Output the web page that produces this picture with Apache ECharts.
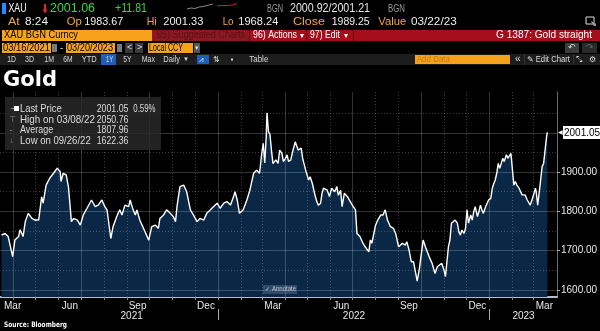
<!DOCTYPE html>
<html>
<head>
<meta charset="utf-8">
<script src="https://cdn.jsdelivr.net/npm/echarts@6/dist/echarts.min.js"></script>
<style>
html, body { margin: 0; padding: 0; background: #000; }
#chart { width: 600px; height: 331px; }
</style>
</head>
<body>
<div id="chart"></div>
<script>
// XAU spot, daily closes (sampled)
const dates = [
  '2021-03-16','2021-03-21','2021-03-25','2021-03-27','2021-03-31','2021-04-03','2021-04-08','2021-04-10','2021-04-12','2021-04-14',
  '2021-04-17','2021-04-21','2021-04-26','2021-04-30','2021-05-05','2021-05-09','2021-05-11','2021-05-15','2021-05-20','2021-05-25',
  '2021-05-30','2021-06-03','2021-06-04','2021-06-07','2021-06-11','2021-06-14','2021-06-18','2021-06-21','2021-06-26','2021-06-30',
  '2021-07-04','2021-07-09','2021-07-15','2021-07-20','2021-07-24','2021-07-29','2021-08-02','2021-08-05','2021-08-10','2021-08-13',
  '2021-08-18','2021-08-22','2021-08-25','2021-08-29','2021-09-03','2021-09-05','2021-09-09','2021-09-12','2021-09-14','2021-09-18',
  '2021-09-21','2021-09-25','2021-09-30','2021-10-04','2021-10-09','2021-10-13','2021-10-15','2021-10-20','2021-10-24','2021-10-29',
  '2021-11-02','2021-11-05','2021-11-07','2021-11-11','2021-11-16','2021-11-20','2021-11-25','2021-11-29','2021-12-04','2021-12-08',
  '2021-12-13','2021-12-17','2021-12-22','2021-12-26','2021-12-31','2022-01-04','2022-01-09','2022-01-13','2022-01-18','2022-01-22',
  '2022-01-24','2022-01-27','2022-01-30','2022-02-04','2022-02-09','2022-02-13','2022-02-18','2022-02-22','2022-02-26','2022-03-01',
  '2022-03-03','2022-03-05','2022-03-07','2022-03-08','2022-03-10','2022-03-12','2022-03-14','2022-03-16','2022-03-20','2022-03-23',
  '2022-03-25','2022-03-28','2022-03-30','2022-04-02','2022-04-04','2022-04-06','2022-04-09','2022-04-12','2022-04-15','2022-04-17',
  '2022-04-19','2022-04-23','2022-04-25','2022-04-29','2022-05-01','2022-05-03','2022-05-05','2022-05-08','2022-05-11','2022-05-14',
  '2022-05-16','2022-05-19','2022-05-21','2022-05-23','2022-05-28','2022-05-31','2022-06-03','2022-06-07','2022-06-10','2022-06-12',
  '2022-06-15','2022-06-17','2022-06-20','2022-06-24','2022-06-28','2022-07-02','2022-07-05','2022-07-07','2022-07-11','2022-07-15',
  '2022-07-18','2022-07-23','2022-07-25','2022-07-27','2022-08-01','2022-08-04','2022-08-08','2022-08-11','2022-08-14','2022-08-17',
  '2022-08-21','2022-08-25','2022-08-28','2022-09-01','2022-09-06','2022-09-10','2022-09-12','2022-09-15','2022-09-18','2022-09-21',
  '2022-09-23','2022-09-26','2022-09-29','2022-10-04','2022-10-07','2022-10-12','2022-10-16','2022-10-20','2022-10-23','2022-10-25',
  '2022-10-29','2022-11-01','2022-11-03','2022-11-07','2022-11-09','2022-11-11','2022-11-16','2022-11-19','2022-11-21','2022-11-23',
  '2022-11-25','2022-11-28','2022-11-30','2022-12-02','2022-12-04','2022-12-07','2022-12-09','2022-12-11','2022-12-13','2022-12-16',
  '2022-12-18','2022-12-20','2022-12-22','2022-12-24','2022-12-27','2022-12-29','2022-12-31','2023-01-03','2023-01-05','2023-01-07',
  '2023-01-09','2023-01-11','2023-01-13','2023-01-15','2023-01-17','2023-01-19','2023-01-21','2023-01-24','2023-01-26','2023-01-28',
  '2023-01-30','2023-02-01','2023-02-03','2023-02-05','2023-02-07','2023-02-10','2023-02-12','2023-02-14','2023-02-16','2023-02-18',
  '2023-02-21','2023-02-23','2023-02-25','2023-02-28','2023-03-02','2023-03-04','2023-03-05','2023-03-07','2023-03-09','2023-03-10',
  '2023-03-13','2023-03-14','2023-03-15','2023-03-17','2023-03-19','2023-03-20'
];
const prices = [
  1740,1744,1736,1732,1685,1727,1736,1753,1745,1736,
  1774,1795,1782,1778,1778,1837,1821,1867,1885,1897,
  1910,1901,1876,1897,1893,1863,1774,1782,1778,1765,
  1791,1808,1829,1812,1816,1829,1812,1803,1731,1761,
  1787,1804,1791,1816,1812,1829,1804,1791,1804,1778,
  1765,1748,1727,1761,1765,1757,1782,1791,1804,1795,
  1787,1774,1812,1863,1867,1850,1804,1791,1774,1782,
  1778,1795,1804,1812,1821,1808,1821,1825,1816,1837,
  1850,1829,1795,1804,1829,1854,1897,1905,1897,1948,
  1973,1923,1990,2050.76,2003,1996,1956,1922,1931,1922,
  1956,1948,1927,1935,1944,1927,1931,1956,1977,1977,
  1956,1961,1935,1905,1901,1880,1888,1871,1846,1825,
  1816,1820,1846,1859,1854,1838,1859,1850,1863,1841,
  1854,1812,1846,1838,1825,1812,1804,1744,1736,1719,
  1710,1697,1727,1719,1765,1778,1791,1791,1804,1778,
  1761,1757,1744,1710,1719,1714,1723,1702,1672,1672,
  1668,1622.36,1655,1727,1710,1685,1668,1642,1659,1655,
  1668,1651,1634,1710,1727,1770,1778,1770,1748,1740,
  1752,1744,1757,1804,1770,1791,1778,1799,1812,1787,
  1799,1816,1804,1795,1812,1812,1829,1833,1859,1871,
  1880,1897,1922,1910,1922,1935,1927,1944,1935,1931,
  1948,1952,1867,1876,1867,1859,1854,1842,1838,1842,
  1829,1825,1816,1833,1846,1859,1850,1816,1812,1863,
  1914,1910,1922,1956,1990,2001.05
];

// Axis text
const monthLabelDates = ['2021-03-31','2021-06-16','2021-09-15','2021-12-16','2022-03-16','2022-06-16','2022-09-15','2022-12-16','2023-03-16'];
const yearLabelDates = ['2021-09-07','2022-07-03','2023-02-16'];
const yearBreaks = ['2022-01-01','2023-01-01'];
const priceTicks = [1600, 1700, 1800, 1900];
const lastPrice = 2001.05;

// Legend panel rows
const statNames = ['Last Price', 'High on 03/08/22', 'Average', 'Low on 09/26/22'];
const statValues = ['2001.05', '2050.76', '1807.96', '1622.36'];
const lastChangePct = '0.59%';

const MONTHS = ['Jan','Feb','Mar','Apr','May','Jun','Jul','Aug','Sep','Oct','Nov','Dec'];
const ts = s => new Date(s + 'T00:00:00').getTime();
const SANS = '"Liberation Sans", Arial, sans-serif';
const BOLD_FACE = '"DejaVu Sans", sans-serif';
const ORANGE = '#f6a21c';
const AMBER = '#f2a93b';
const X_MIN = ts('2021-03-14');
const X_MAX = ts('2023-04-02');

const seriesData = dates.map((d, i) => [ts(d), prices[i]]);

// month boundaries (vertical grid), quarter starts drawn solid
const monthStarts = [];
for (let y = 2021, m = 3; y < 2023 || m <= 2; ) {
  monthStarts.push(new Date(y, m, 1).getTime());
  m++; if (m > 11) { m = 0; y++; }
}
const SOLID = { color: 'rgba(255,255,255,0.2)', width: 1, type: 'solid' };
const DOTTED = { color: 'rgba(255,255,255,0.22)', width: 1, type: [1, 2] };
const gridMarks = [];
for (let v = 1600; v <= 2050; v += 50) {
  gridMarks.push({ yAxis: v, lineStyle: v % 100 === 0 ? SOLID : DOTTED });
}
monthStarts.forEach(t => {
  gridMarks.push({ xAxis: t, lineStyle: new Date(t).getMonth() % 3 === 0 ? SOLID : DOTTED });
});

// ---- header / panel graphics ----
// terminal text is condensed: squeeze each run horizontally to its box width
const measureCtx = document.createElement('canvas').getContext('2d');
function squeeze(text, size, weight, family, w) {
  if (!w) return 1;
  measureCtx.font = `${weight || 'normal'} ${size}px ${family}`;
  return w / measureCtx.measureText(text).width;
}
const T = (x, y, text, fill, size, w, extra) => {
  extra = extra || {};
  const family = extra.fontFamily || SANS;
  return {
    type: 'text', x, y, silent: true, z: 100,
    scaleX: squeeze(text, size, extra.fontWeight, family, w),
    style: Object.assign({ text, fill, fontSize: size, fontFamily: family, verticalAlign: 'middle' }, extra)
  };
};
const R = (x, y, w, h, fill, z) => ({ type: 'rect', silent: true, z: z || 95, shape: { x, y, width: w, height: h }, style: { fill } });

const g = [];
// row 1 : ticker quote
g.push(R(2, 3, 4, 11, '#1f8bff'));
g.push(T(8.5, 9, 'XAU', '#ffffff', 12.5, 18));
g.push(R(44, 4, 2, 6, '#e8202a', 100));
g.push({ type: 'polygon', silent: true, z: 100, shape: { points: [[42.5, 9.5], [47.5, 9.5], [45, 13.5]] }, style: { fill: '#e8202a' } });
g.push(T(50, 9, '2001.06', '#35d83a', 12.5, 45));
g.push(T(115, 9, '+11.81', '#35d83a', 12.5, 32));
g.push({ type: 'polyline', silent: true, z: 100, shape: { points: [[187,9],[191,8],[195,8.5],[199,7],[203,6.5],[207,5.5],[213,4]] }, style: { stroke: '#8a8a8a', lineWidth: 1, fill: null } });
g.push({ type: 'polyline', silent: true, z: 100, shape: { points: [[217,6],[222,5.5],[228,5.5],[233,5],[237,3.5]] }, style: { stroke: '#d0202a', lineWidth: 1, fill: null } });
g.push(T(267, 9, 'BGN', '#9a9a9a', 11.5, 16));
g.push(T(290, 9, '2000.92/2001.21', '#e6e6e6', 12.5, 80));
g.push(T(388, 9, 'BGN', '#9a9a9a', 11.5, 17));
// row 2 : session stats
[[8,'At',AMBER,11.7],[25,'8:24','#eee',23],[66.7,'Op',AMBER,15],[84.3,'1983.67','#eee',39],[146.7,'Hi',AMBER,10],[163.3,'2001.33','#eee',40],
 [222.7,'Lo',AMBER,10.7],[238.3,'1968.24','#eee',40],[293,'Close',AMBER,32],[331.7,'1989.25','#eee',38],[378.3,'Value',AMBER,28],[411,'03/22/23','#eee',45.7]]
  .forEach(([x, t, c, w]) => g.push(T(x, 21.5, t, c, 11, w)));
g.push({ type: 'rect', silent: true, z: 100, shape: { x: 586, y: 17, width: 8, height: 7 }, style: { fill: null, stroke: '#ddd', lineWidth: 1 } });
g.push(T(590, 24, '↘', '#ddd', 8));
// row 3 : security / function bar
g.push(R(2, 30, 150, 11, ORANGE));
g.push(T(4, 35.5, 'XAU BGN Curncy', '#000', 10.5, 74));
g.push(R(152, 30, 448, 11, '#a50f1b'));
g.push(R(153, 30, 95, 11, '#8a1921'));
g.push(T(157, 35.5, '95) Suggested Charts', '#5e1118', 10.5, 88));
g.push(R(249, 30, 1, 11, '#5a070e'));
g.push(T(253, 35.5, '96) Actions', '#ffffff', 10.5, 44));
g.push(T(300, 35.5, '▾', '#ffffff', 8));
g.push(R(306, 30, 1, 11, '#5a070e'));
g.push(T(310, 35.5, '97) Edit', '#ffffff', 10.5, 30));
g.push(T(344, 35.5, '▾', '#ffffff', 8));
g.push(R(353, 30, 1, 11, '#5a070e'));
g.push(T(496, 35.5, 'G 1387: Gold straight', '#ffffff', 10.5, 96));
// row 4 : date range
g.push(R(2, 43, 49, 10, ORANGE));
g.push(T(3, 48, '03/16/2021', '#000', 10, 47));
g.push(R(52, 44, 5, 8, '#7a7a7a'));
g.push(T(60, 48, '-', '#ccc', 10));
g.push(R(66, 43, 49, 10, ORANGE));
g.push(T(67, 48, '03/20/2023', '#000', 10, 46));
g.push(R(117, 44, 5, 8, '#7a7a7a'));
g.push(R(125, 43, 8, 10, '#3a3a3a'));
g.push(T(127, 48, '<', '#ddd', 9));
g.push(R(135, 43, 8, 10, '#3a3a3a'));
g.push(T(137, 48, '>', '#ddd', 9));
g.push(R(148, 43, 45, 10, ORANGE));
g.push(T(149, 48, 'Local CCY', '#000', 10, 34));
g.push(R(194, 43, 6, 10, '#555'));
g.push(T(194.5, 48, '▾', '#ddd', 7));
g.push(R(565, 43, 14, 10, '#3c3c3c'));
g.push(T(572, 48, '↶', '#ddd', 9, 0, { align: 'center' }));
g.push(R(582, 43, 15, 10, '#2a2a2a'));
g.push(T(589.5, 48, '↷', '#666', 9, 0, { align: 'center' }));
// row 5 : toolbar
g.push(R(0, 54, 600, 11, '#1d1d1d', 90));
g.push(R(101, 54, 15, 11, '#1f5fb8'));
g.push(R(197, 55, 12, 9, '#1f5fb8'));
[[7.3,'1D',8.7],[25,'3D',9],[44.3,'1M',9.7],[63.3,'6M',9.3],[81.7,'YTD',15],[106,'1Y',7.3],[123.3,'5Y',8.3],[141.7,'Max',13.3],[163.3,'Daily',16.7],[249.3,'Table',19]]
  .forEach(([x, t, w]) => g.push(T(x, 59.5, t, '#d8d8d8', 9, w)));
g.push(T(183, 59.5, '▼', '#d8d8d8', 6));
g.push(T(213, 59.5, '⇅', '#d8d8d8', 8));
g.push(R(231, 58.5, 2, 2, '#d8d8d8'));
g.push(T(199, 59.5, '⩘', '#dfe8ff', 8));
g.push(R(415, 55, 95, 9, ORANGE));
g.push(T(416.7, 59.5, 'Add Data', '#c47a12', 9, 33.3));
g.push(T(515, 59.5, '«', '#ddd', 10));
g.push(R(524, 54, 1, 11, '#333'));
g.push(T(527, 59.5, '✎', '#ddd', 8));
g.push(T(535.7, 59.5, 'Edit Chart', '#ddd', 9, 34.3));
g.push(R(573, 54, 1, 11, '#333'));
g.push(T(576, 59.5, '⤡', '#ddd', 8));
g.push(T(588.7, 59.5, '⚙', '#ddd', 8));
// title
g.push(T(3, 80, 'Gold', '#ffffff', 22, 54, { fontWeight: 'bold', fontFamily: BOLD_FACE }));
// legend panel
g.push(R(5, 97, 156, 53, 'rgba(42,42,42,0.82)', 96));
const rowY = [109, 120, 130.5, 141];
const nameW = [41.7, 75, 33.3, 70.7];
g.push(R(14, 106, 5, 5, '#ffffff', 100));
g.push(R(11, 108, 3, 1, '#8a8a8a', 100));
g.push(T(9, rowY[1], '⊤', '#8a8a8a', 8));
g.push(T(9.5, rowY[2], '-', '#8a8a8a', 9));
g.push(T(9.5, rowY[3], '↓', '#8a8a8a', 8));
statNames.forEach((n, i) => {
  g.push(T(20, rowY[i], n, '#dcdcdc', 10.5, nameW[i]));
  g.push(T(96.7, rowY[i], statValues[i], '#dcdcdc', 10.5, 31.7));
});
g.push(T(133.3, rowY[0], lastChangePct, '#dcdcdc', 10.5, 22.3));
// annotate button
g.push(R(263, 285, 34, 9, 'rgba(120,140,175,0.35)'));
g.push(T(265, 289.5, '✓', '#b9c2d0', 6));
g.push(T(272, 289.5, 'Annotate', '#b9c2d0', 7, 24));
// footer
g.push(T(4, 325, 'Source: Bloomberg', '#ffffff', 7.5, 63, { fontWeight: 'bold', fontFamily: BOLD_FACE }));

const chart = echarts.init(document.getElementById('chart'), null, { renderer: 'canvas' });
chart.setOption({
  backgroundColor: '#000',
  animation: false,
  grid: { left: 0, right: 43, top: 92, bottom: 34, containLabel: false, outerBoundsMode: 'none' },
  xAxis: [{
    type: 'value', min: X_MIN, max: X_MAX,
    axisLine: { show: true, lineStyle: { color: '#b6bccb', width: 2 } },
    axisTick: { show: true, customValues: monthStarts, length: 3, lineStyle: { color: '#888' } },
    axisLabel: {
      customValues: monthLabelDates.map(ts), formatter: v => MONTHS[new Date(v).getMonth()],
      color: '#e8e8e8', fontSize: 10, fontFamily: SANS, margin: 4
    },
    splitLine: { show: false }
  }, {
    type: 'value', min: X_MIN, max: X_MAX, position: 'bottom', offset: 12,
    axisLine: { show: false },
    axisTick: { show: true, customValues: yearBreaks.map(ts), length: 11, lineStyle: { color: '#aaa' } },
    axisLabel: {
      customValues: yearLabelDates.map(ts), formatter: v => String(new Date(v).getFullYear()),
      color: '#e8e8e8', fontSize: 10, fontFamily: SANS, margin: 2
    },
    splitLine: { show: false }
  }],
  yAxis: {
    type: 'value', position: 'right', min: 1582.2, max: 2103.8,
    axisLine: { show: true, lineStyle: { color: '#6c6c6c' } },
    axisTick: { show: true, customValues: priceTicks, length: 3, lineStyle: { color: '#aaa' } },
    axisLabel: { customValues: priceTicks, formatter: v => v.toFixed(2), color: '#e8e8e8', fontSize: 10, fontFamily: SANS, margin: 4 },
    splitLine: { show: false }
  },
  series: [{
    name: 'fill', type: 'line', data: seriesData, symbol: 'none', z: 2,
    lineStyle: { width: 0, opacity: 0 },
    areaStyle: { color: '#0a2746', opacity: 1, origin: 'start' },
    silent: true,
    markLine: { silent: true, symbol: 'none', animation: false, label: { show: false }, data: gridMarks }
  }, {
    name: 'XAU', type: 'line', data: seriesData, symbol: 'none', z: 10,
    lineStyle: { color: '#ffffff', width: 1.4 },
    silent: true,
    markLine: {
      silent: true, symbol: 'none', animation: false,
      lineStyle: { color: 'rgba(0,0,0,0)', width: 0 },
      label: {
        show: true, position: 'end', distance: 1,
        formatter: () => '{a|◀}{b|' + lastPrice.toFixed(2) + '}',
        rich: {
          a: { color: '#ffffff', fontSize: 6 },
          b: { backgroundColor: '#ffffff', color: '#000', fontSize: 10, fontFamily: SANS, padding: [2, 2, 1, 1] }
        }
      },
      data: [{ yAxis: lastPrice }]
    }
  }],
  graphic: g
});
</script>
</body>
</html>
